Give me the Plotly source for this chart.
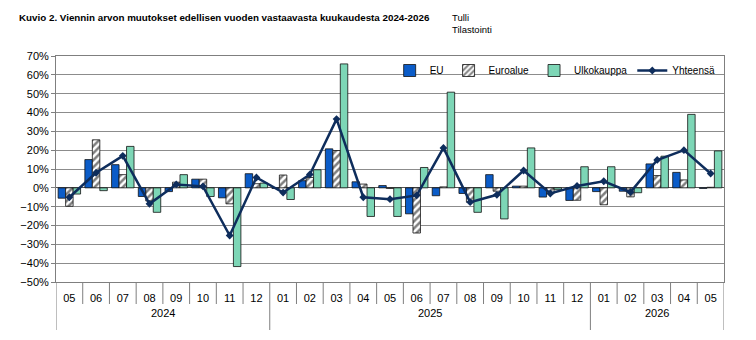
import plotly.graph_objects as go

years = ["2024"] * 8 + ["2025"] * 12 + ["2026"] * 5
months = ["05", "06", "07", "08", "09", "10", "11", "12",
          "01", "02", "03", "04", "05", "06", "07", "08", "09", "10", "11", "12",
          "01", "02", "03", "04", "05"]

eu = [-5.5, 15, 12.3, -4.6, -2, 4.6, -5.3, 7.5, -0.3, 3.8, 20.7, 3.2, 1.2, -13.8,
      -4.2, -3, 7, 0.9, -4.9, -6.7, -2, -1.8, 12.7, 8.2, -0.3]
euroalue = [-9.8, 25.5, 7, -7, 3, 4.6, -8.5, 2.2, 6.8, 5.5, 19.8, 2, -0.3, -24,
            0.5, -7.6, -1.8, 0.9, -3.1, -6.6, -9, -4.8, 6.5, 4.2, 0.3]
ulkokauppa = [-3.3, -1.5, 22, -13, 7, -4.6, -41.8, 2.5, -6.2, 9.6, 65.8, -15.2,
              -15.2, 10.8, 50.8, -13, -16.5, 21.2, -1, 11.2, 11.2, -2.6, 16.8, 39, 19.6]
yhteensa = [-5, 8, 17, -8.5, 1.8, 0.8, -25.3, 5.5, -2.5, 7.1, 36.5, -5, -6, -4,
            21.2, -7.6, -3.7, 9.2, -3, 1, 3.5, -2.3, 14.8, 20, 7.6]

x = [f"{y}-{m}" for y, m in zip(years, months)]
n = len(x)

fig = go.Figure()
fig.add_trace(go.Bar(x=x, y=eu, name="EU",
                     marker=dict(color="#0B5CC8", line=dict(color="#111111", width=0.8))))
fig.add_trace(go.Bar(x=x, y=euroalue, name="Euroalue",
                     marker=dict(color="white", line=dict(color="#111111", width=0.8),
                                 pattern=dict(shape="/", fgcolor="#000000", bgcolor="white",
                                              size=5, solidity=0.5))))
fig.add_trace(go.Bar(x=x, y=ulkokauppa, name="Ulkokauppa",
                     marker=dict(color="#7DD6B6", line=dict(color="#111111", width=0.8))))
fig.add_trace(go.Scatter(x=x, y=yhteensa, name="Yhteensä", mode="lines+markers",
                         line=dict(color="#0E2D5C", width=2.5),
                         marker=dict(symbol="diamond", size=6, color="#0E2D5C")))

plot_h = 340 - 56 - 58
shapes = []
annotations = []
# month separators and year dividers
for i in range(n + 1):
    is_year = i == 0 or i == n or years[i] != years[i - 1]
    depth = 48 if is_year else 22
    shapes.append(dict(type="line", xref="x", yref="paper", x0=i - 0.5, x1=i - 0.5,
                       y0=0, y1=-depth / plot_h, line=dict(color="#7F7F7F", width=1)))
# year labels
start = 0
for i in range(1, n + 1):
    if i == n or years[i] != years[start]:
        annotations.append(dict(text=years[start], xref="x", yref="paper",
                                x=(start + i - 1) / 2, y=-31 / plot_h, xanchor="center",
                                yanchor="middle", showarrow=False,
                                font=dict(size=11, family="Liberation Sans")))
        start = i

annotations += [
    dict(text="<b>Kuvio 2. Viennin arvon muutokset edellisen vuoden vastaavasta kuukaudesta 2024-2026</b>",
         xref="paper", yref="paper", x=-39 / 668, y=1 + 39 / plot_h, xanchor="left", yanchor="middle",
         showarrow=False, font=dict(size=9.8, family="Liberation Sans")),
    dict(text="Tulli<br>Tilastointi", xref="paper", yref="paper", x=(450 - 56) / 668,
         y=1 + 33 / plot_h, xanchor="left", yanchor="middle", align="left", showarrow=False,
         font=dict(size=9.5, family="Liberation Sans")),
]

fig.update_layout(
    width=756, height=340,
    margin=dict(l=56, r=32, t=56, b=58),
    paper_bgcolor="white", plot_bgcolor="white",
    barmode="group", bargap=0.16, bargroupgap=0,
    font=dict(family="Liberation Sans, Arial", size=11, color="#000000"),
    showlegend=True,
    legend=dict(orientation="h", x=0.995, xanchor="right", y=1.0, yanchor="top",
                bgcolor="rgba(0,0,0,0)", font=dict(size=10, family="Liberation Sans"),
                itemwidth=30, tracegroupgap=0),
    shapes=shapes,
    annotations=annotations,
)

fig.update_yaxes(range=[-50, 70], dtick=10, ticksuffix="%", showgrid=True,
                 gridcolor="#8C8C8C", gridwidth=1, zeroline=True, zerolinecolor="#555555",
                 zerolinewidth=1, showline=True, linecolor="#7F7F7F", mirror=True,
                 ticks="outside", ticklen=4, tickcolor="#7F7F7F",
                 tickfont=dict(size=11, family="Liberation Sans"))
fig.update_xaxes(type="category", range=[-0.5, n - 0.5], showline=True, linecolor="#7F7F7F",
                 mirror=True, ticks="outside", ticklen=6, tickcolor="rgba(0,0,0,0)",
                 tickvals=x, ticktext=months, showgrid=False,
                 tickfont=dict(size=11, family="Liberation Sans"))

fig.write_html("out.html")
